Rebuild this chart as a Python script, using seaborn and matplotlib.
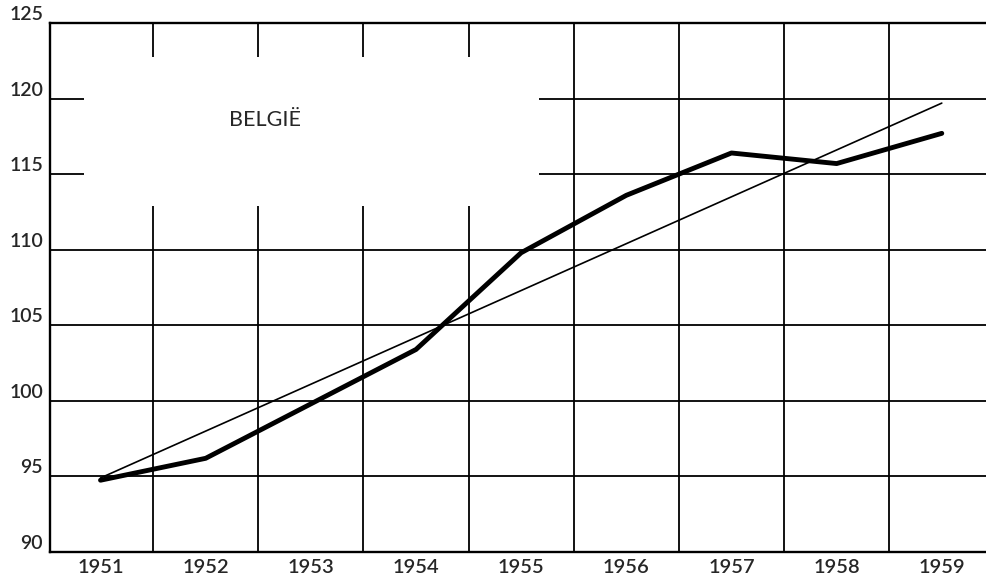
import matplotlib
matplotlib.use("Agg")
import matplotlib.pyplot as plt
import seaborn as sns
import pandas as pd
from matplotlib.patches import Rectangle

# ===== DATA =====
years = [1951, 1952, 1953, 1954, 1955, 1956, 1957, 1958, 1959]
index_values = [94.75, 96.2, 99.8, 103.4, 109.8, 113.6, 116.4, 115.7, 117.7]
trend_years = [1951, 1959]
trend_values = [94.9, 119.7]
y_ticks = [90, 95, 100, 105, 110, 115, 120, 125]
year_labels = [str(y) for y in years]
country = "BELGIË"

sns.set_style("white")
plt.rcParams['font.family'] = ['Lato', 'DejaVu Sans']

df = pd.DataFrame({"Jaar": years, "Index": index_values})
trend = pd.DataFrame({"Jaar": trend_years, "Index": trend_values})

fig = plt.figure(figsize=(9.87, 5.81), dpi=100)
ax = fig.add_axes([0.0507, 0.0499, 0.9493, 0.9105])

sns.lineplot(data=df, x="Jaar", y="Index", color="black", linewidth=3.5, ax=ax, zorder=3)
sns.lineplot(data=trend, x="Jaar", y="Index", color="black", linewidth=1.2, ax=ax, zorder=3)

ax.set_xlim(1950.52, 1959.43)
ax.set_ylim(90, 125)
ax.set_xticks(years)
ax.set_xticklabels(year_labels, fontsize=14.5, fontweight='semibold')
ax.set_xticks([y + 0.5 for y in years[:-1]], minor=True)
ax.set_yticks(y_ticks)
ax.set_yticklabels([str(v) for v in y_ticks], fontsize=14, fontweight='semibold')
for lab in ax.get_yticklabels():
    lab.set_va('bottom')
ax.tick_params(axis='both', which='both', length=0)
ax.tick_params(axis='x', pad=5)
ax.tick_params(axis='y', pad=5)
ax.set_xlabel("")
ax.set_ylabel("")

# grid: horizontal at every 5, vertical between the years
ax.grid(False)
ax.xaxis.grid(True, which='minor', color='black', linewidth=1.3)
ax.yaxis.grid(True, which='major', color='black', linewidth=1.3)
ax.set_axisbelow(True)

# blank area behind the country label
ax.add_patch(Rectangle((1950.84, 112.9), 1955.17 - 1950.84, 122.76 - 112.9,
                       facecolor='white', edgecolor='none', zorder=1))
ax.text(1952.56, 118.6, country, fontsize=15.5, ha='center', va='center')

for side in ['left', 'top', 'bottom']:
    ax.spines[side].set_color('black')
    ax.spines[side].set_linewidth(1.7)
ax.spines['right'].set_visible(False)

fig.savefig("out.png", dpi=100)
